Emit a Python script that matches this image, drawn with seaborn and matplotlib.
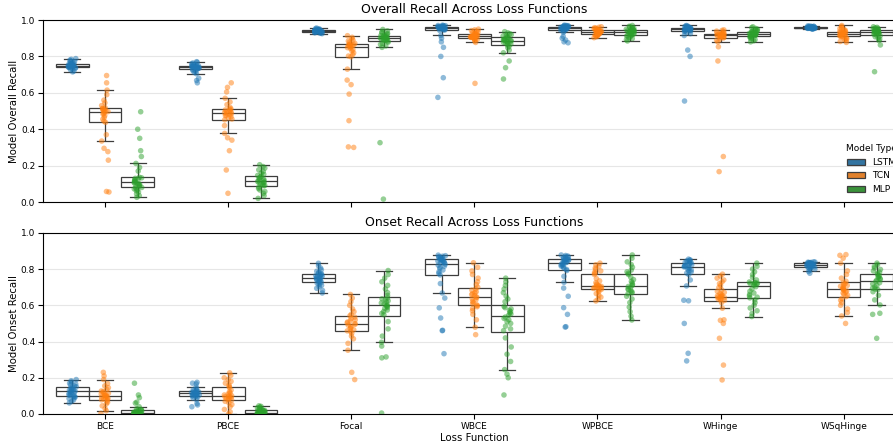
import numpy as np
import pandas as pd
import matplotlib.pyplot as plt
import seaborn as sns

# categories
losses = ["BCE", "PBCE", "Focal", "WBCE", "WPBCE", "WHinge", "WSqHinge"]
models = ["LSTM", "TCN", "MLP"]

# --- overall recall, one list per loss function (order of `losses`) ---
overall_lstm = [
    [0.715, 0.72, 0.727, 0.733, 0.736, 0.738, 0.739, 0.74, 0.741, 0.743, 0.745, 0.747, 0.748, 0.749, 0.75, 0.75, 0.751, 0.753, 0.755, 0.757, 0.758, 0.76, 0.76, 0.763, 0.767, 0.771, 0.775, 0.78, 0.784, 0.788],
    [0.655, 0.668, 0.68, 0.705, 0.712, 0.718, 0.723, 0.729, 0.731, 0.733, 0.735, 0.737, 0.738, 0.739, 0.74, 0.74, 0.741, 0.742, 0.743, 0.745, 0.746, 0.747, 0.748, 0.75, 0.753, 0.757, 0.76, 0.764, 0.768, 0.771],
    [0.925, 0.927, 0.929, 0.93, 0.932, 0.933, 0.934, 0.935, 0.935, 0.936, 0.937, 0.938, 0.939, 0.939, 0.94, 0.94, 0.941, 0.942, 0.942, 0.943, 0.944, 0.945, 0.945, 0.946, 0.947, 0.948, 0.95, 0.951, 0.953, 0.956],
    [0.575, 0.683, 0.80, 0.85, 0.88, 0.90, 0.915, 0.942, 0.945, 0.946, 0.948, 0.95, 0.952, 0.953, 0.954, 0.956, 0.957, 0.958, 0.959, 0.96, 0.961, 0.962, 0.964, 0.965, 0.966, 0.967, 0.968, 0.969, 0.97, 0.972],
    [0.875, 0.88, 0.89, 0.90, 0.91, 0.932, 0.938, 0.944, 0.946, 0.948, 0.95, 0.951, 0.952, 0.954, 0.955, 0.956, 0.957, 0.958, 0.959, 0.96, 0.961, 0.962, 0.964, 0.965, 0.966, 0.967, 0.968, 0.969, 0.97, 0.972],
    [0.555, 0.80, 0.835, 0.915, 0.925, 0.932, 0.936, 0.939, 0.941, 0.943, 0.944, 0.946, 0.947, 0.948, 0.949, 0.951, 0.952, 0.953, 0.954, 0.955, 0.956, 0.957, 0.959, 0.96, 0.961, 0.963, 0.964, 0.966, 0.968, 0.97],
    [0.95, 0.951, 0.952, 0.953, 0.954, 0.954, 0.955, 0.955, 0.956, 0.956, 0.957, 0.957, 0.957, 0.958, 0.958, 0.958, 0.959, 0.959, 0.96, 0.96, 0.961, 0.962, 0.962, 0.963, 0.963, 0.964, 0.965, 0.966, 0.967, 0.968],
]
overall_tcn = [
    [0.055, 0.058, 0.23, 0.277, 0.295, 0.335, 0.37, 0.438, 0.445, 0.455, 0.465, 0.475, 0.482, 0.488, 0.493, 0.497, 0.50, 0.503, 0.507, 0.51, 0.513, 0.515, 0.518, 0.53, 0.545, 0.56, 0.59, 0.615, 0.655, 0.695],
    [0.048, 0.176, 0.282, 0.34, 0.353, 0.377, 0.42, 0.452, 0.456, 0.462, 0.468, 0.474, 0.478, 0.482, 0.485, 0.488, 0.491, 0.494, 0.498, 0.502, 0.506, 0.509, 0.512, 0.52, 0.535, 0.55, 0.57, 0.605, 0.63, 0.655],
    [0.30, 0.303, 0.447, 0.593, 0.645, 0.67, 0.73, 0.798, 0.802, 0.81, 0.82, 0.83, 0.838, 0.844, 0.848, 0.852, 0.855, 0.858, 0.86, 0.862, 0.864, 0.866, 0.868, 0.872, 0.878, 0.885, 0.89, 0.897, 0.905, 0.914],
    [0.652, 0.877, 0.885, 0.89, 0.895, 0.898, 0.90, 0.902, 0.904, 0.905, 0.906, 0.907, 0.908, 0.909, 0.91, 0.911, 0.912, 0.914, 0.916, 0.918, 0.92, 0.922, 0.924, 0.927, 0.93, 0.934, 0.938, 0.942, 0.946, 0.95],
    [0.903, 0.908, 0.912, 0.915, 0.917, 0.919, 0.92, 0.921, 0.923, 0.925, 0.927, 0.929, 0.931, 0.933, 0.934, 0.936, 0.937, 0.938, 0.94, 0.941, 0.943, 0.945, 0.946, 0.948, 0.95, 0.952, 0.955, 0.958, 0.96, 0.963],
    [0.167, 0.25, 0.775, 0.853, 0.88, 0.888, 0.895, 0.902, 0.904, 0.906, 0.908, 0.91, 0.912, 0.913, 0.914, 0.916, 0.917, 0.918, 0.919, 0.92, 0.921, 0.922, 0.923, 0.925, 0.928, 0.931, 0.935, 0.939, 0.943, 0.946],
    [0.877, 0.882, 0.888, 0.893, 0.898, 0.902, 0.906, 0.909, 0.911, 0.914, 0.916, 0.918, 0.92, 0.922, 0.924, 0.926, 0.927, 0.928, 0.93, 0.931, 0.933, 0.934, 0.936, 0.94, 0.944, 0.948, 0.953, 0.958, 0.964, 0.97],
]
overall_mlp = [
    [0.026, 0.035, 0.045, 0.055, 0.062, 0.068, 0.072, 0.076, 0.08, 0.084, 0.088, 0.092, 0.096, 0.099, 0.102, 0.105, 0.108, 0.111, 0.115, 0.119, 0.123, 0.127, 0.13, 0.133, 0.136, 0.17, 0.19, 0.212, 0.25, 0.282, 0.35, 0.40, 0.496],
    [0.02, 0.035, 0.048, 0.058, 0.066, 0.074, 0.082, 0.09, 0.091, 0.095, 0.099, 0.103, 0.107, 0.11, 0.113, 0.117, 0.12, 0.124, 0.128, 0.132, 0.137, 0.142, 0.146, 0.152, 0.16, 0.168, 0.177, 0.186, 0.195, 0.205],
    [0.016, 0.326, 0.85, 0.858, 0.866, 0.872, 0.878, 0.884, 0.886, 0.888, 0.89, 0.892, 0.895, 0.897, 0.899, 0.901, 0.903, 0.905, 0.907, 0.909, 0.911, 0.913, 0.915, 0.918, 0.922, 0.926, 0.93, 0.935, 0.941, 0.948],
    [0.676, 0.738, 0.775, 0.82, 0.835, 0.848, 0.856, 0.864, 0.868, 0.871, 0.874, 0.877, 0.88, 0.883, 0.885, 0.887, 0.889, 0.891, 0.893, 0.896, 0.899, 0.902, 0.905, 0.908, 0.912, 0.916, 0.92, 0.925, 0.93, 0.936],
    [0.885, 0.892, 0.898, 0.903, 0.908, 0.912, 0.915, 0.917, 0.919, 0.922, 0.925, 0.928, 0.93, 0.932, 0.934, 0.936, 0.937, 0.938, 0.94, 0.941, 0.943, 0.944, 0.946, 0.949, 0.952, 0.955, 0.958, 0.962, 0.966, 0.97],
    [0.88, 0.886, 0.892, 0.897, 0.902, 0.906, 0.909, 0.911, 0.913, 0.915, 0.917, 0.919, 0.921, 0.923, 0.924, 0.926, 0.927, 0.928, 0.93, 0.931, 0.933, 0.935, 0.937, 0.94, 0.943, 0.946, 0.95, 0.954, 0.958, 0.963],
    [0.716, 0.863, 0.887, 0.895, 0.902, 0.908, 0.913, 0.919, 0.922, 0.925, 0.927, 0.929, 0.931, 0.933, 0.934, 0.936, 0.937, 0.938, 0.94, 0.941, 0.943, 0.944, 0.946, 0.948, 0.95, 0.952, 0.954, 0.957, 0.96, 0.963],
]

# --- onset recall ---
onset_lstm = [
    [0.061, 0.07, 0.078, 0.085, 0.09, 0.094, 0.098, 0.1, 0.102, 0.106, 0.11, 0.114, 0.118, 0.121, 0.124, 0.126, 0.129, 0.132, 0.135, 0.139, 0.143, 0.147, 0.15, 0.155, 0.16, 0.165, 0.17, 0.176, 0.183, 0.19],
    [0.04, 0.05, 0.058, 0.079, 0.088, 0.094, 0.098, 0.1, 0.101, 0.103, 0.105, 0.107, 0.109, 0.111, 0.113, 0.115, 0.116, 0.118, 0.119, 0.121, 0.122, 0.124, 0.126, 0.13, 0.135, 0.14, 0.148, 0.166, 0.17, 0.175],
    [0.668, 0.682, 0.694, 0.703, 0.71, 0.716, 0.722, 0.727, 0.729, 0.733, 0.737, 0.741, 0.744, 0.747, 0.75, 0.752, 0.755, 0.758, 0.761, 0.764, 0.767, 0.771, 0.773, 0.777, 0.782, 0.788, 0.796, 0.806, 0.818, 0.832],
    [0.333, 0.46, 0.462, 0.53, 0.586, 0.64, 0.668, 0.72, 0.768, 0.776, 0.785, 0.795, 0.803, 0.81, 0.816, 0.822, 0.827, 0.833, 0.836, 0.839, 0.842, 0.845, 0.848, 0.85, 0.852, 0.855, 0.857, 0.86, 0.862, 0.865, 0.868, 0.871, 0.874, 0.877],
    [0.48, 0.482, 0.55, 0.587, 0.65, 0.695, 0.727, 0.76, 0.792, 0.798, 0.805, 0.811, 0.816, 0.82, 0.824, 0.828, 0.831, 0.835, 0.838, 0.841, 0.844, 0.847, 0.849, 0.851, 0.853, 0.856, 0.858, 0.86, 0.863, 0.866, 0.869, 0.872, 0.875, 0.878],
    [0.293, 0.335, 0.50, 0.625, 0.628, 0.707, 0.74, 0.77, 0.778, 0.784, 0.79, 0.795, 0.8, 0.804, 0.808, 0.812, 0.815, 0.818, 0.821, 0.824, 0.827, 0.831, 0.835, 0.837, 0.839, 0.842, 0.845, 0.848, 0.851, 0.855],
    [0.777, 0.787, 0.795, 0.8, 0.804, 0.807, 0.809, 0.811, 0.813, 0.815, 0.817, 0.819, 0.82, 0.822, 0.823, 0.825, 0.826, 0.827, 0.828, 0.829, 0.83, 0.831, 0.833, 0.834, 0.835, 0.836, 0.837, 0.838, 0.839, 0.84],
]
onset_tcn = [
    [0.003, 0.018, 0.03, 0.045, 0.055, 0.064, 0.072, 0.078, 0.08, 0.083, 0.087, 0.09, 0.093, 0.096, 0.099, 0.101, 0.104, 0.107, 0.111, 0.115, 0.119, 0.124, 0.127, 0.135, 0.145, 0.155, 0.168, 0.19, 0.21, 0.23],
    [0.0, 0.012, 0.025, 0.04, 0.052, 0.062, 0.07, 0.078, 0.08, 0.084, 0.088, 0.092, 0.095, 0.097, 0.099, 0.101, 0.105, 0.11, 0.116, 0.123, 0.132, 0.146, 0.152, 0.16, 0.17, 0.18, 0.19, 0.2, 0.213, 0.227],
    [0.19, 0.23, 0.352, 0.39, 0.415, 0.43, 0.445, 0.455, 0.459, 0.465, 0.472, 0.478, 0.484, 0.49, 0.495, 0.499, 0.503, 0.508, 0.514, 0.52, 0.527, 0.535, 0.542, 0.55, 0.565, 0.58, 0.6, 0.62, 0.64, 0.66],
    [0.438, 0.479, 0.52, 0.55, 0.57, 0.582, 0.592, 0.598, 0.602, 0.608, 0.615, 0.622, 0.63, 0.637, 0.643, 0.646, 0.654, 0.659, 0.664, 0.669, 0.675, 0.684, 0.69, 0.7, 0.715, 0.73, 0.75, 0.77, 0.79, 0.81, 0.835],
    [0.624, 0.635, 0.645, 0.655, 0.665, 0.674, 0.681, 0.688, 0.69, 0.693, 0.696, 0.699, 0.702, 0.705, 0.706, 0.708, 0.712, 0.718, 0.725, 0.735, 0.748, 0.77, 0.776, 0.782, 0.79, 0.798, 0.806, 0.815, 0.824, 0.833],
    [0.188, 0.27, 0.418, 0.50, 0.517, 0.52, 0.584, 0.615, 0.627, 0.63, 0.634, 0.637, 0.64, 0.643, 0.645, 0.647, 0.649, 0.652, 0.656, 0.66, 0.665, 0.671, 0.677, 0.686, 0.698, 0.71, 0.72, 0.73, 0.74, 0.75, 0.762, 0.772],
    [0.50, 0.541, 0.56, 0.58, 0.6, 0.615, 0.628, 0.638, 0.648, 0.655, 0.662, 0.668, 0.674, 0.679, 0.684, 0.687, 0.691, 0.695, 0.7, 0.705, 0.71, 0.715, 0.72, 0.725, 0.733, 0.75, 0.77, 0.79, 0.833, 0.86, 0.876, 0.88],
]
onset_mlp = [
    [0.0, 0.0, 0.0, 0.0, 0.0, 0.0, 0.0, 0.0, 0.001, 0.002, 0.003, 0.004, 0.005, 0.006, 0.007, 0.008, 0.01, 0.012, 0.014, 0.016, 0.018, 0.02, 0.021, 0.025, 0.03, 0.04, 0.06, 0.065, 0.09, 0.105, 0.17],
    [0.0, 0.0, 0.0, 0.0, 0.0, 0.0, 0.0, 0.0, 0.001, 0.002, 0.003, 0.004, 0.005, 0.006, 0.007, 0.008, 0.01, 0.012, 0.014, 0.016, 0.018, 0.02, 0.022, 0.025, 0.028, 0.031, 0.034, 0.038, 0.042, 0.045],
    [0.005, 0.31, 0.315, 0.375, 0.396, 0.43, 0.47, 0.51, 0.548, 0.555, 0.565, 0.574, 0.582, 0.588, 0.594, 0.598, 0.602, 0.607, 0.613, 0.619, 0.625, 0.631, 0.636, 0.642, 0.655, 0.67, 0.69, 0.71, 0.73, 0.75, 0.77, 0.792],
    [0.105, 0.2, 0.22, 0.245, 0.29, 0.33, 0.37, 0.42, 0.46, 0.47, 0.485, 0.5, 0.51, 0.52, 0.528, 0.535, 0.545, 0.552, 0.558, 0.565, 0.572, 0.58, 0.587, 0.594, 0.62, 0.635, 0.65, 0.67, 0.69, 0.71, 0.73, 0.75],
    [0.519, 0.54, 0.565, 0.59, 0.615, 0.635, 0.65, 0.664, 0.668, 0.674, 0.68, 0.686, 0.692, 0.698, 0.704, 0.71, 0.716, 0.724, 0.732, 0.742, 0.755, 0.77, 0.776, 0.785, 0.795, 0.81, 0.825, 0.84, 0.86, 0.878],
    [0.538, 0.555, 0.57, 0.585, 0.6, 0.615, 0.63, 0.641, 0.645, 0.652, 0.66, 0.668, 0.678, 0.69, 0.703, 0.711, 0.715, 0.718, 0.72, 0.722, 0.724, 0.726, 0.729, 0.74, 0.755, 0.77, 0.785, 0.8, 0.815, 0.833],
    [0.418, 0.55, 0.556, 0.602, 0.63, 0.655, 0.675, 0.687, 0.69, 0.695, 0.702, 0.71, 0.718, 0.725, 0.732, 0.738, 0.743, 0.748, 0.753, 0.758, 0.763, 0.77, 0.776, 0.782, 0.79, 0.798, 0.806, 0.815, 0.824, 0.833],
]


def to_long(per_model):
    rows = []
    for model, groups in zip(models, per_model):
        for loss, vals in zip(losses, groups):
            for v in vals:
                rows.append((loss, model, v))
    return pd.DataFrame(rows, columns=["Loss Function", "Model Type", "Recall"])


overall = to_long([overall_lstm, overall_tcn, overall_mlp])
onset = to_long([onset_lstm, onset_tcn, onset_mlp])

np.random.seed(3)
fig = plt.figure(figsize=(8.93, 4.45), dpi=100)
ax1 = fig.add_axes([0.0487, 0.546, 0.965, 0.409])
ax2 = fig.add_axes([0.0487, 0.0697, 0.965, 0.407])

panels = [
    (ax1, overall, "Overall Recall Across Loss Functions", "Model Overall Recall"),
    (ax2, onset, "Onset Recall Across Loss Functions", "Model Onset Recall"),
]

for ax, df, title, ylab in panels:
    sns.boxplot(data=df, x="Loss Function", y="Recall", hue="Model Type",
                order=losses, hue_order=models, showfliers=False,
                linewidth=0.9, ax=ax, legend=(ax is ax1))
    # hollow boxes, the points carry the colour
    for p in ax.patches:
        p.set_facecolor("white")
    sns.stripplot(data=df, x="Loss Function", y="Recall", hue="Model Type",
                  order=losses, hue_order=models, dodge=True, alpha=0.5,
                  size=4, linewidth=0, legend=False, ax=ax)
    ax.set_ylim(0, 1.0)
    ax.set_yticks(np.arange(0, 1.01, 0.2))
    ax.yaxis.grid(True, color="#e6e6e6", linewidth=0.8)
    ax.set_axisbelow(True)
    ax.set_title(title, fontsize=9, pad=5)
    ax.set_ylabel(ylab, fontsize=7.3, labelpad=1)
    ax.tick_params(labelsize=6.5)
    ax.tick_params(axis="y", pad=2.5)
    ax.tick_params(axis="x", pad=2)

ax1.set_xlabel("")
ax1.tick_params(labelbottom=False)
ax2.set_xlabel("Loss Function", fontsize=7.3, labelpad=2)

sns.move_legend(ax1, "lower right", frameon=False, title="Model Type",
                fontsize=6.5, title_fontsize=6.5)

fig.savefig("out.png", dpi=100)
